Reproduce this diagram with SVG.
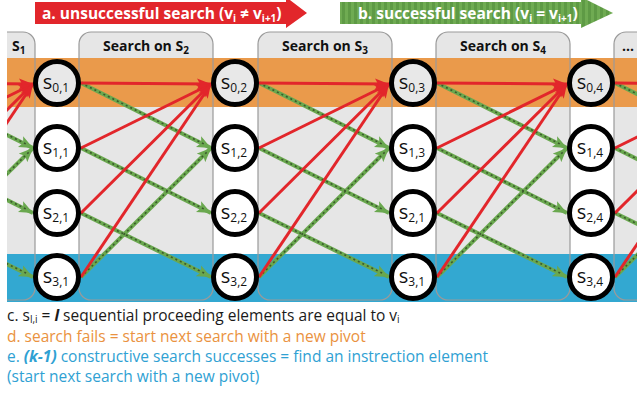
<svg xmlns="http://www.w3.org/2000/svg" width="637" height="396" viewBox="0 0 637 396">
<style>
.panel{fill:#e6e6e6;stroke:none}
.pline{fill:none;stroke:#9a9a9a;stroke-width:1.2}
.tab{font-family:"Open Sans","Noto Sans",sans-serif;font-weight:bold;font-size:14px;fill:#111}
.node circle{stroke:#000;stroke-width:5;fill:#fff}
.node.top circle{fill:#e8e8e8}
.node text{font-family:"Open Sans","Noto Sans",sans-serif;font-size:20px;fill:#111;text-anchor:middle}
.red{stroke:#e2262b;stroke-width:3;fill:none;marker-end:url(#ar)}
.grn{stroke:#6aa84f;stroke-width:4;fill:none;marker-end:url(#ag)}
.dot{stroke:#3b5a2c;stroke-width:1.6;stroke-dasharray:2 3;fill:none}
.lbl{font-family:"Open Sans","Noto Sans",sans-serif;font-weight:bold;font-size:15.5px;fill:#fff}
.leg{font-family:"Open Sans","Noto Sans",sans-serif;font-size:15.5px}
</style>
<defs>
<clipPath id="clip"><rect x="7" y="0" width="630" height="302"/></clipPath>
<marker id="ar" markerUnits="userSpaceOnUse" markerWidth="15" markerHeight="12" refX="14" refY="6" orient="auto"><path d="M0,0.5 L14,6 L0,11.5 L3,6 z" fill="#e2262b"/></marker>
<marker id="ag" markerUnits="userSpaceOnUse" markerWidth="15" markerHeight="13" refX="14" refY="6.5" orient="auto"><path d="M0,0.5 L14,6.5 L0,12.5 L3,6.5 z" fill="#6aa84f"/></marker>
<pattern id="stripe" patternUnits="userSpaceOnUse" width="6" height="30"><rect width="6" height="30" fill="#6fab52"/><rect width="3" height="30" fill="#5e9a45"/></pattern>
</defs>

<g id="banner-a">
<polygon points="35,2 286,2 286,-3 307,13 286,28 286,24 35,24" fill="#e2262b"/>
<text class="lbl" x="42" y="19">a. unsuccessful search (v<tspan font-size="10" dy="3">i</tspan><tspan dy="-3"> ≠ v</tspan><tspan font-size="10" dy="3">i+1</tspan><tspan dy="-3">)</tspan></text>
</g>
<g id="banner-b">
<polygon points="340,2 581,2 581,-3 613,13 581,28 581,24 340,24" fill="url(#stripe)"/>
<text class="lbl" x="358" y="19">b. successful search (v<tspan font-size="10" dy="3">i</tspan><tspan dy="-3"> = v</tspan><tspan font-size="10" dy="3">i+1</tspan><tspan dy="-3">)</tspan></text>
</g>

<g clip-path="url(#clip)">
<g id="panels">
<rect class="panel" x="-99" y="32" width="134" height="268" rx="12"/>
<rect class="panel" x="79" y="32" width="134" height="268" rx="12"/>
<rect class="panel" x="258" y="32" width="134" height="268" rx="12"/>
<rect class="panel" x="436" y="32" width="134" height="268" rx="12"/>
<rect class="panel" x="614" y="32" width="134" height="268" rx="12"/>
</g>
<g id="bands">
<rect x="7" y="58" width="630" height="49" fill="#ea9a4b"/>
<rect x="7" y="254" width="630" height="48" fill="#33a8d1"/>
</g>
<g id="panel-outlines">
<rect class="pline" x="-99" y="32" width="134" height="268" rx="12"/>
<rect class="pline" x="79" y="32" width="134" height="268" rx="12"/>
<rect class="pline" x="258" y="32" width="134" height="268" rx="12"/>
<rect class="pline" x="436" y="32" width="134" height="268" rx="12"/>
<rect class="pline" x="614" y="32" width="134" height="268" rx="12"/>
</g>
<g id="tabs">
<text class="tab" x="12" y="51">S<tspan font-size="10" dy="3">1</tspan></text>
<text class="tab" x="146" y="51" text-anchor="middle">Search on S<tspan font-size="10" dy="3">2</tspan></text>
<text class="tab" x="325" y="51" text-anchor="middle">Search on S<tspan font-size="10" dy="3">3</tspan></text>
<text class="tab" x="503" y="51" text-anchor="middle">Search on S<tspan font-size="10" dy="3">4</tspan></text>
<text class="tab" x="622" y="51">...</text>
</g>

<g id="connectors">
<g>
<line class="grn" x1="-97" y1="83" x2="33" y2="148"/><line class="grn" x1="-97" y1="148" x2="33" y2="213"/><line class="grn" x1="-97" y1="213" x2="33" y2="277"/><line class="grn" x1="-97" y1="277" x2="33" y2="148"/>
<line class="grn" x1="81" y1="83" x2="211" y2="148"/><line class="grn" x1="81" y1="148" x2="211" y2="213"/><line class="grn" x1="81" y1="213" x2="211" y2="277"/><line class="grn" x1="81" y1="277" x2="211" y2="148"/>
<line class="grn" x1="259" y1="83" x2="389" y2="148"/><line class="grn" x1="259" y1="148" x2="389" y2="213"/><line class="grn" x1="259" y1="213" x2="389" y2="277"/><line class="grn" x1="259" y1="277" x2="389" y2="148"/>
<line class="grn" x1="437" y1="83" x2="567" y2="148"/><line class="grn" x1="437" y1="148" x2="567" y2="213"/><line class="grn" x1="437" y1="213" x2="567" y2="277"/><line class="grn" x1="437" y1="277" x2="567" y2="148"/>
<line class="grn" x1="615" y1="83" x2="745" y2="148"/><line class="grn" x1="615" y1="148" x2="745" y2="213"/><line class="grn" x1="615" y1="213" x2="745" y2="277"/><line class="grn" x1="615" y1="277" x2="745" y2="148"/>
</g>
<g>
<line class="dot" x1="-97" y1="83" x2="28" y2="145"/><line class="dot" x1="-97" y1="148" x2="28" y2="210"/><line class="dot" x1="-97" y1="213" x2="28" y2="274"/><line class="dot" x1="-97" y1="277" x2="29" y2="152"/>
<line class="dot" x1="81" y1="83" x2="206" y2="145"/><line class="dot" x1="81" y1="148" x2="206" y2="210"/><line class="dot" x1="81" y1="213" x2="206" y2="274"/><line class="dot" x1="81" y1="277" x2="207" y2="152"/>
<line class="dot" x1="259" y1="83" x2="384" y2="145"/><line class="dot" x1="259" y1="148" x2="384" y2="210"/><line class="dot" x1="259" y1="213" x2="384" y2="274"/><line class="dot" x1="259" y1="277" x2="385" y2="152"/>
<line class="dot" x1="437" y1="83" x2="562" y2="145"/><line class="dot" x1="437" y1="148" x2="562" y2="210"/><line class="dot" x1="437" y1="213" x2="562" y2="274"/><line class="dot" x1="437" y1="277" x2="563" y2="152"/>
<line class="dot" x1="615" y1="83" x2="740" y2="145"/><line class="dot" x1="615" y1="148" x2="740" y2="210"/><line class="dot" x1="615" y1="213" x2="740" y2="274"/><line class="dot" x1="615" y1="277" x2="741" y2="152"/>
</g>
<g>
<line class="red" x1="-97" y1="83" x2="33" y2="84"/><line class="red" x1="-97" y1="148" x2="33" y2="84"/><line class="red" x1="-97" y1="213" x2="33" y2="84"/><line class="red" x1="-97" y1="277" x2="33" y2="84"/>
<line class="red" x1="81" y1="83" x2="211" y2="84"/><line class="red" x1="81" y1="148" x2="211" y2="84"/><line class="red" x1="81" y1="213" x2="211" y2="84"/><line class="red" x1="81" y1="277" x2="211" y2="84"/>
<line class="red" x1="259" y1="83" x2="389" y2="84"/><line class="red" x1="259" y1="148" x2="389" y2="84"/><line class="red" x1="259" y1="213" x2="389" y2="84"/><line class="red" x1="259" y1="277" x2="389" y2="84"/>
<line class="red" x1="437" y1="83" x2="567" y2="84"/><line class="red" x1="437" y1="148" x2="567" y2="84"/><line class="red" x1="437" y1="213" x2="567" y2="84"/><line class="red" x1="437" y1="277" x2="567" y2="84"/>
<line class="red" x1="615" y1="83" x2="745" y2="84"/><line class="red" x1="615" y1="148" x2="745" y2="84"/><line class="red" x1="615" y1="213" x2="745" y2="84"/><line class="red" x1="615" y1="277" x2="745" y2="84"/>
</g>
</g>

<g id="s01" class="node top"><circle cx="57" cy="83" r="21.5"/><text x="56" y="89">s<tspan font-size="12" dy="3">0,1</tspan></text></g>
<g id="s11" class="node"><circle cx="57" cy="148" r="21.5"/><text x="56" y="154">s<tspan font-size="12" dy="3">1,1</tspan></text></g>
<g id="s21" class="node"><circle cx="57" cy="213" r="21.5"/><text x="56" y="219">s<tspan font-size="12" dy="3">2,1</tspan></text></g>
<g id="s31" class="node"><circle cx="57" cy="277" r="21.5"/><text x="56" y="283">s<tspan font-size="12" dy="3">3,1</tspan></text></g>
<g id="s02" class="node top"><circle cx="235" cy="83" r="21.5"/><text x="234" y="89">s<tspan font-size="12" dy="3">0,2</tspan></text></g>
<g id="s12" class="node"><circle cx="235" cy="148" r="21.5"/><text x="234" y="154">s<tspan font-size="12" dy="3">1,2</tspan></text></g>
<g id="s22" class="node"><circle cx="235" cy="213" r="21.5"/><text x="234" y="219">s<tspan font-size="12" dy="3">2,2</tspan></text></g>
<g id="s32" class="node"><circle cx="235" cy="277" r="21.5"/><text x="234" y="283">s<tspan font-size="12" dy="3">3,2</tspan></text></g>
<g id="s03" class="node top"><circle cx="413" cy="83" r="21.5"/><text x="412" y="89">s<tspan font-size="12" dy="3">0,3</tspan></text></g>
<g id="s13" class="node"><circle cx="413" cy="148" r="21.5"/><text x="412" y="154">s<tspan font-size="12" dy="3">1,3</tspan></text></g>
<g id="s23" class="node"><circle cx="413" cy="213" r="21.5"/><text x="412" y="219">s<tspan font-size="12" dy="3">2,1</tspan></text></g>
<g id="s33" class="node"><circle cx="413" cy="277" r="21.5"/><text x="412" y="283">s<tspan font-size="12" dy="3">3,1</tspan></text></g>
<g id="s04" class="node top"><circle cx="591" cy="83" r="21.5"/><text x="590" y="89">s<tspan font-size="12" dy="3">0,4</tspan></text></g>
<g id="s14" class="node"><circle cx="591" cy="148" r="21.5"/><text x="590" y="154">s<tspan font-size="12" dy="3">1,4</tspan></text></g>
<g id="s24" class="node"><circle cx="591" cy="213" r="21.5"/><text x="590" y="219">s<tspan font-size="12" dy="3">2,4</tspan></text></g>
<g id="s34" class="node"><circle cx="591" cy="277" r="21.5"/><text x="590" y="283">s<tspan font-size="12" dy="3">3,4</tspan></text></g>
</g>

<g id="legend">
<text class="leg" x="7" y="321" fill="#1a1a1a">c. s<tspan font-size="10" dy="2">l,i</tspan><tspan dy="-2"> = </tspan><tspan font-weight="bold" font-style="italic">l</tspan> sequential proceeding elements are equal to v<tspan font-size="10" dy="2">i</tspan></text>
<text class="leg" x="7" y="342" fill="#ea9240">d. search fails = start next search with a new pivot</text>
<text class="leg" x="7" y="362" fill="#2fa1d3">e. <tspan font-weight="bold" font-style="italic">(k-1)</tspan> constructive search successes = find an instrection element</text>
<text class="leg" x="7" y="382" fill="#2fa1d3">(start next search with a new pivot)</text>
</g>
</svg>
